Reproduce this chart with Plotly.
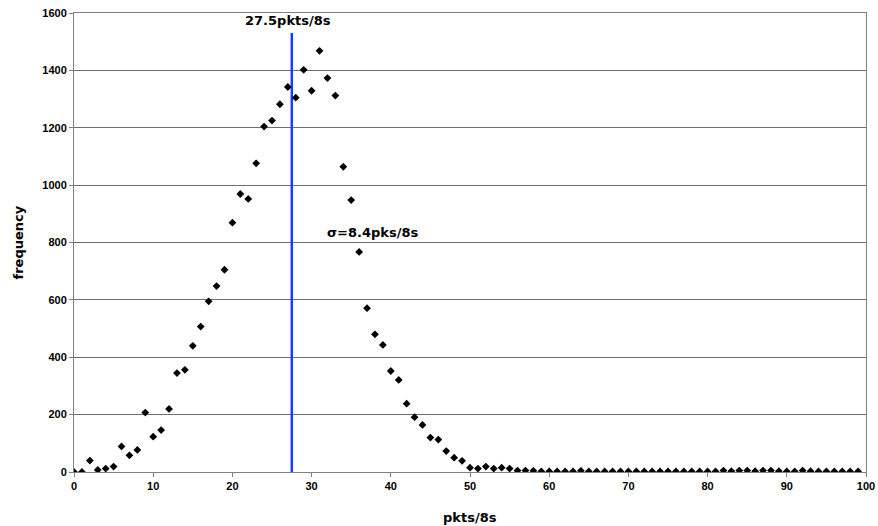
import plotly.graph_objects as go

pkts = list(range(0, 100))
frequency = [
    0, 0, 40, 7, 12, 19, 89, 58, 77, 207,
    123, 146, 220, 345, 356, 440, 507, 595, 648, 705,
    869, 969, 952, 1076, 1204, 1225, 1282, 1342, 1305, 1402,
    1329, 1468, 1373, 1312, 1064, 948, 767, 571, 480, 443,
    352, 321, 238, 191, 164, 120, 113, 73, 50, 39,
    15, 12, 19, 12, 15, 12, 5, 5, 4, 2,
    2, 2, 2, 2, 4, 2, 2, 2, 2, 2,
    2, 2, 2, 2, 2, 2, 2, 2, 2, 2,
    2, 2, 5, 3, 5, 5, 3, 5, 5, 3,
    2, 2, 5, 3, 2, 2, 2, 2, 2, 2,
]
mean_x = [27.5, 27.5]
mean_y = [0, 1530]
mean_label = "27.5pkts/8s"
sigma_label = "σ=8.4pks/8s"
x_ticks = [0, 10, 20, 30, 40, 50, 60, 70, 80, 90, 100]
y_ticks = [0, 200, 400, 600, 800, 1000, 1200, 1400, 1600]

FONT = "Liberation Sans, Arial, sans-serif"
WIDE = "DejaVu Sans, Verdana, sans-serif"

fig = go.Figure()
fig.add_trace(go.Scatter(
    x=mean_x, y=mean_y, mode="lines",
    line=dict(color="#1a3cff", width=2.5),
    showlegend=False, hoverinfo="skip",
))
fig.add_trace(go.Scatter(
    x=pkts, y=frequency, mode="markers",
    marker=dict(symbol="diamond", size=6, color="black"),
    showlegend=False,
))

fig.add_annotation(x=26.96, y=1600, yshift=-7, text="<b>" + mean_label + "</b>",
                   showarrow=False, xanchor="center", yanchor="middle",
                   font=dict(family=WIDE, size=13, color="black"))
fig.add_annotation(x=31.7, y=840, yshift=-1, text="<b>" + sigma_label + "</b>",
                   showarrow=False, xanchor="left", yanchor="middle",
                   font=dict(family=WIDE, size=13, color="black"))
fig.add_annotation(xref="paper", yref="paper", x=0.5, y=0, yshift=-45,
                   text="<b>pkts/8s</b>", showarrow=False,
                   xanchor="center", yanchor="middle",
                   font=dict(family=WIDE, size=13, color="black"))
fig.add_annotation(xref="paper", yref="paper", x=0, xshift=-56, y=0.5,
                   text="<b>frequency</b>", showarrow=False, textangle=-90,
                   xanchor="center", yanchor="middle",
                   font=dict(family=WIDE, size=13, color="black"))

fig.update_layout(
    width=878, height=526,
    margin=dict(l=74, r=12, t=13, b=54),
    paper_bgcolor="white", plot_bgcolor="white",
    font=dict(family=FONT, size=11, color="black"),
    xaxis=dict(
        range=[0, 100], tickvals=x_ticks, automargin=False,
        ticktext=["<b>%d</b>" % v for v in x_ticks],
        showgrid=False, zeroline=False,
        showline=True, linecolor="#808080", linewidth=1, mirror=True,
        ticks="outside", ticklen=4, tickcolor="#808080",
    ),
    yaxis=dict(
        range=[0, 1600], tickvals=y_ticks, automargin=False,
        ticktext=["<b>%d</b>" % v for v in y_ticks],
        showgrid=True, gridcolor="#6e6e6e", gridwidth=1, zeroline=False,
        showline=True, linecolor="#808080", linewidth=1, mirror=True,
        ticks="outside", ticklen=4, tickcolor="#808080",
    ),
)

fig.write_html("out.html", config={"displayModeBar": False},
               post_script="document.body.style.margin='0';document.body.style.overflow='hidden';")
